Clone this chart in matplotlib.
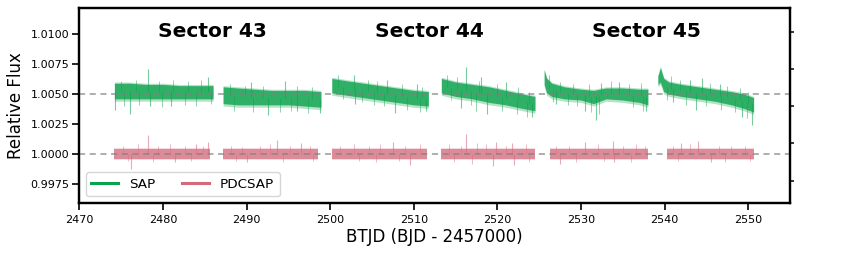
import numpy as np
import matplotlib
matplotlib.use("Agg")
import matplotlib.pyplot as plt
from matplotlib.lines import Line2D

# ---------------- data ----------------
# SAP core band envelopes per orbit (BTJD, relative flux)
sap_x = [
    [2474.2, 2476, 2478, 2480, 2482, 2484, 2486.0],
    [2487.2, 2489, 2491, 2493, 2495, 2497, 2498.9],
    [2500.2, 2502, 2504, 2506, 2508, 2510, 2511.75],
    [2513.3, 2515, 2517, 2519, 2521, 2523, 2524.5],
    [2525.6, 2525.9, 2526.5, 2528, 2530, 2531.5, 2533, 2535, 2537, 2538.0],
    [2539.2, 2539.5, 2539.9, 2540.5, 2542, 2544, 2546, 2548, 2549.5, 2550.65],
]
sap_hi = [
    [1.0059, 1.0059, 1.0058, 1.0058, 1.0057, 1.0057, 1.0057],
    [1.0056, 1.0055, 1.0054, 1.0053, 1.0053, 1.0053, 1.0052],
    [1.0063, 1.0061, 1.0059, 1.0057, 1.0055, 1.0053, 1.0052],
    [1.0063, 1.0060, 1.0058, 1.0056, 1.0053, 1.0050, 1.0048],
    [1.0070, 1.0063, 1.0059, 1.0056, 1.0054, 1.0053, 1.0055, 1.0055, 1.0054, 1.0054],
    [1.0065, 1.0072, 1.0063, 1.0060, 1.0058, 1.0056, 1.0054, 1.0052, 1.0050, 1.0047],
]
sap_lo = [
    [1.0046, 1.0046, 1.0046, 1.0046, 1.0046, 1.0046, 1.0046],
    [1.0042, 1.0041, 1.0041, 1.0041, 1.0041, 1.0040, 1.0039],
    [1.0051, 1.0049, 1.0047, 1.0045, 1.0043, 1.0041, 1.0040],
    [1.0051, 1.0048, 1.0046, 1.0043, 1.0041, 1.0038, 1.0036],
    [1.0058, 1.0051, 1.0048, 1.0046, 1.0045, 1.0042, 1.0046, 1.0045, 1.0043, 1.0041],
    [1.0058, 1.0060, 1.0052, 1.0050, 1.0048, 1.0046, 1.0044, 1.0041, 1.0038, 1.0035],
]
# strong outliers
sap_spike_x = [2478.2, 2485.4, 2490.5, 2494.6, 2502.9, 2506.8, 2510.4, 2516.3, 2518.0,
               2521.0, 2532.4, 2534.5, 2543.0, 2544.5, 2546.6,
               2474.3, 2476.1, 2478.4, 2481.0, 2492.6, 2496.0, 2498.8, 2503.0, 2507.8,
               2511.5, 2515.7, 2518.8, 2524.2, 2527.0, 2530.5, 2531.8, 2537.8, 2541.0,
               2543.8, 2549.2, 2550.4]
sap_spike_y = [1.0071, 1.0064, 1.0060, 1.0061, 1.0066, 1.0062, 1.0058, 1.00725, 1.0064,
               1.0060, 1.0059, 1.0060, 1.0062, 1.0063, 1.0058,
               1.0037, 1.0033, 1.0040, 1.0040, 1.00325, 1.0036, 1.0034, 1.0042, 1.0034,
               1.0036, 1.0038, 1.0033, 1.0031, 1.0042, 1.0036, 1.0028, 1.0036, 1.0043,
               1.0037, 1.0031, 1.0024]
# weaker scatter at the band edges
sap_minor_x = [2475.0, 2476.8, 2479.5, 2481.2, 2483.0, 2484.6,
               2475.4, 2477.2, 2479.9, 2482.6, 2484.0, 2485.8,
               2488.0, 2489.8, 2492.0, 2496.0, 2497.8,
               2488.5, 2490.8, 2494.0, 2495.3, 2497.3,
               2501.0, 2504.5, 2505.6, 2508.6, 2511.0,
               2501.5, 2503.8, 2505.2, 2506.5, 2509.2, 2510.8,
               2514.0, 2515.2, 2517.8, 2520.0, 2522.5, 2523.8,
               2514.5, 2516.8, 2517.5, 2520.5, 2522.3, 2523.5,
               2526.2, 2527.5, 2529.0, 2531.0, 2533.6, 2535.8, 2537.2,
               2526.7, 2528.5, 2529.5, 2531.2, 2532.1, 2536.2, 2537.4,
               2540.8, 2541.8, 2545.4, 2547.5, 2549.0, 2550.0,
               2540.3, 2542.6, 2545.0, 2546.8, 2548.4, 2549.8]
sap_minor_y = [1.0061, 1.0062, 1.0061, 1.0062, 1.0061, 1.0062,
               1.0040, 1.0041, 1.0039, 1.0041, 1.0040, 1.0042,
               1.0058, 1.0057, 1.0057, 1.0057, 1.0056,
               1.0036, 1.0035, 1.0035, 1.0036, 1.0034,
               1.0066, 1.0062, 1.0061, 1.0058, 1.0056,
               1.0046, 1.0043, 1.0041, 1.0040, 1.0037, 1.0035,
               1.0066, 1.0064, 1.0061, 1.0058, 1.0056, 1.0052,
               1.0045, 1.0041, 1.0036, 1.0036, 1.0033, 1.0031,
               1.0066, 1.0060, 1.0058, 1.0058, 1.0061, 1.0058, 1.0059,
               1.0043, 1.0041, 1.0040, 1.0035, 1.0033, 1.0039, 1.0036,
               1.0065, 1.0062, 1.0059, 1.0057, 1.0055, 1.0052,
               1.0045, 1.0041, 1.0040, 1.0037, 1.0035, 1.0030]

# PDCSAP orbits (flat around 1.0)
pdc_start = [2474.2, 2487.2, 2500.2, 2513.3, 2526.25, 2540.3]
pdc_end = [2485.6, 2498.55, 2511.6, 2524.5, 2538.0, 2550.65]
pdc_hi = [1.00040, 1.00038, 1.00038, 1.00042, 1.00038, 1.00038]
pdc_lo = [0.99962, 0.99962, 0.99962, 0.99960, 0.99962, 0.99962]
pdc_spike_x = [2478.2, 2484.0, 2485.4, 2493.6, 2496.5, 2507.5, 2516.3, 2519.8, 2521.8,
               2530.5, 2533.8, 2542.0, 2544.0,
               2476.2, 2481.5, 2490.0, 2509.5, 2519.5, 2522.0, 2527.5, 2534.0, 2545.5]
pdc_spike_y = [1.0016, 1.0008, 1.0010, 1.0012, 1.0009, 1.0010, 1.0017, 1.0010, 1.0009,
               1.0010, 1.0011, 1.0009, 1.0011,
               0.99875, 0.9993, 0.9993, 0.9991, 0.9990, 0.9991, 0.9992, 0.9993, 0.9993]
pdc_minor_x = [2475.2, 2477.0, 2479.4, 2480.8, 2482.6, 2484.8,
               2475.8, 2478.8, 2483.4, 2488.2, 2489.5, 2491.6, 2492.8, 2495.2, 2497.6,
               2488.8, 2494.4, 2498.0, 2501.2, 2502.8, 2504.6, 2506.0, 2509.0, 2510.8,
               2503.4, 2505.5, 2508.2, 2514.2, 2515.6, 2517.6, 2518.6, 2521.0, 2523.4,
               2514.8, 2517.0, 2523.8, 2527.0, 2528.6, 2532.0, 2535.0, 2536.6, 2537.6,
               2529.4, 2532.8, 2536.0, 2541.0, 2543.0, 2546.5, 2548.0, 2549.6,
               2541.6, 2547.2, 2550.2]
pdc_minor_y = [1.0007, 1.0008, 1.0007, 1.0008, 1.0007, 1.0007,
               0.9994, 0.9993, 0.9994, 1.0007, 1.0006, 1.0007, 1.0008, 1.0007, 1.0007,
               0.9994, 0.9993, 0.9994, 1.0007, 1.0008, 1.0007, 1.0008, 1.0007, 1.0008,
               0.9994, 0.9993, 0.9994, 1.0008, 1.0007, 1.0009, 1.0008, 1.0007, 1.0008,
               0.9993, 0.9992, 0.9993, 1.0007, 1.0007, 1.0008, 1.0007, 1.0008, 1.0007,
               0.9993, 0.9994, 0.9993, 1.0007, 1.0008, 1.0007, 1.0007, 1.0007,
               0.9994, 0.9993, 0.9994]

sector_names = ["Sector 43", "Sector 44", "Sector 45"]
sector_x = [2485.9, 2511.9, 2537.8]
ref_levels = [1.005, 1.000]

sap_color = "#0ba24c"
pdc_color = "#d46a7c"

# ---------------- figure ----------------
fig = plt.figure(figsize=(8.47, 2.54), dpi=100)
ax = fig.add_axes([0.0936, 0.2008, 0.8391, 0.7677])


def orbit_center(sx, xs_list, hi_list, lo_list):
    for xs, hi, lo in zip(xs_list, hi_list, lo_list):
        if xs[0] <= sx <= xs[-1]:
            return 0.5 * (np.interp(sx, xs, hi) + np.interp(sx, xs, lo))
    return None


for xs, hi, lo in zip(sap_x, sap_hi, sap_lo):
    xs = np.asarray(xs); hi = np.asarray(hi); lo = np.asarray(lo)
    ax.fill_between(xs, lo - 0.0002, hi + 0.0001, color=sap_color, alpha=0.3, lw=0)
    ax.fill_between(xs, lo, hi, color=sap_color, alpha=0.78, lw=0)

for sx, sy in zip(sap_minor_x, sap_minor_y):
    c = orbit_center(sx, sap_x, sap_hi, sap_lo)
    if c is not None:
        ax.vlines(sx, c, sy, color=sap_color, lw=0.7, alpha=0.45)
for sx, sy in zip(sap_spike_x, sap_spike_y):
    c = orbit_center(sx, sap_x, sap_hi, sap_lo)
    if c is not None:
        ax.vlines(sx, c, sy, color=sap_color, lw=0.8, alpha=0.55)

for s, e, hi, lo in zip(pdc_start, pdc_end, pdc_hi, pdc_lo):
    ax.fill_between([s, e], [lo - 0.0001] * 2, [hi + 0.0001] * 2, color=pdc_color, alpha=0.25, lw=0)
    ax.fill_between([s, e], [lo] * 2, [hi] * 2, color=pdc_color, alpha=0.7, lw=0)

for sx, sy in zip(pdc_minor_x, pdc_minor_y):
    ax.vlines(sx, 1.0, sy, color=pdc_color, lw=0.7, alpha=0.45)
for sx, sy in zip(pdc_spike_x, pdc_spike_y):
    ax.vlines(sx, 1.0, sy, color=pdc_color, lw=0.8, alpha=0.55)

for lvl in ref_levels:
    ax.axhline(lvl, color="gray", ls=(0, (4, 3)), lw=1.1, alpha=0.8, zorder=5)

for name, sx in zip(sector_names, sector_x):
    ax.text(sx, 1.01025, name, ha="center", va="center", fontsize=14.5, fontweight="bold")

ax.set_xlim(2470, 2555)
ax.set_ylim(0.99592, 1.01217)
ax.set_xticks([2470, 2480, 2490, 2500, 2510, 2520, 2530, 2540, 2550])
ax.set_yticks([0.9975, 1.0000, 1.0025, 1.0050, 1.0075, 1.0100])
ax.set_yticklabels(["0.9975", "1.0000", "1.0025", "1.0050", "1.0075", "1.0100"])
ax.tick_params(axis="both", labelsize=8, length=5, width=1.2, direction="out", pad=2)
ax.tick_params(axis="x", pad=3.5)
ax.set_xlabel("BTJD (BJD - 2457000)", fontsize=12, labelpad=2)
ax.set_ylabel("Relative Flux", fontsize=12, labelpad=4)
for sp in ax.spines.values():
    sp.set_linewidth(1.6)

ax2 = ax.twinx()
ax2.set_ylim(0, 1)
ax2.set_yticks([0.113, 0.308, 0.497, 0.687, 0.878])
ax2.set_yticklabels([])
ax2.tick_params(axis="y", length=3.2, width=1.1, direction="out")
for sp in ax2.spines.values():
    sp.set_linewidth(1.6)

handles = [Line2D([], [], color=sap_color, lw=2.2), Line2D([], [], color=pdc_color, lw=2.2)]
ax.legend(handles, ["SAP", "PDCSAP"], loc="lower left", ncol=2, fontsize=9.7,
          frameon=True, borderaxespad=0.5, handlelength=2.0, columnspacing=2.0)

fig.savefig("out.png", dpi=100)
